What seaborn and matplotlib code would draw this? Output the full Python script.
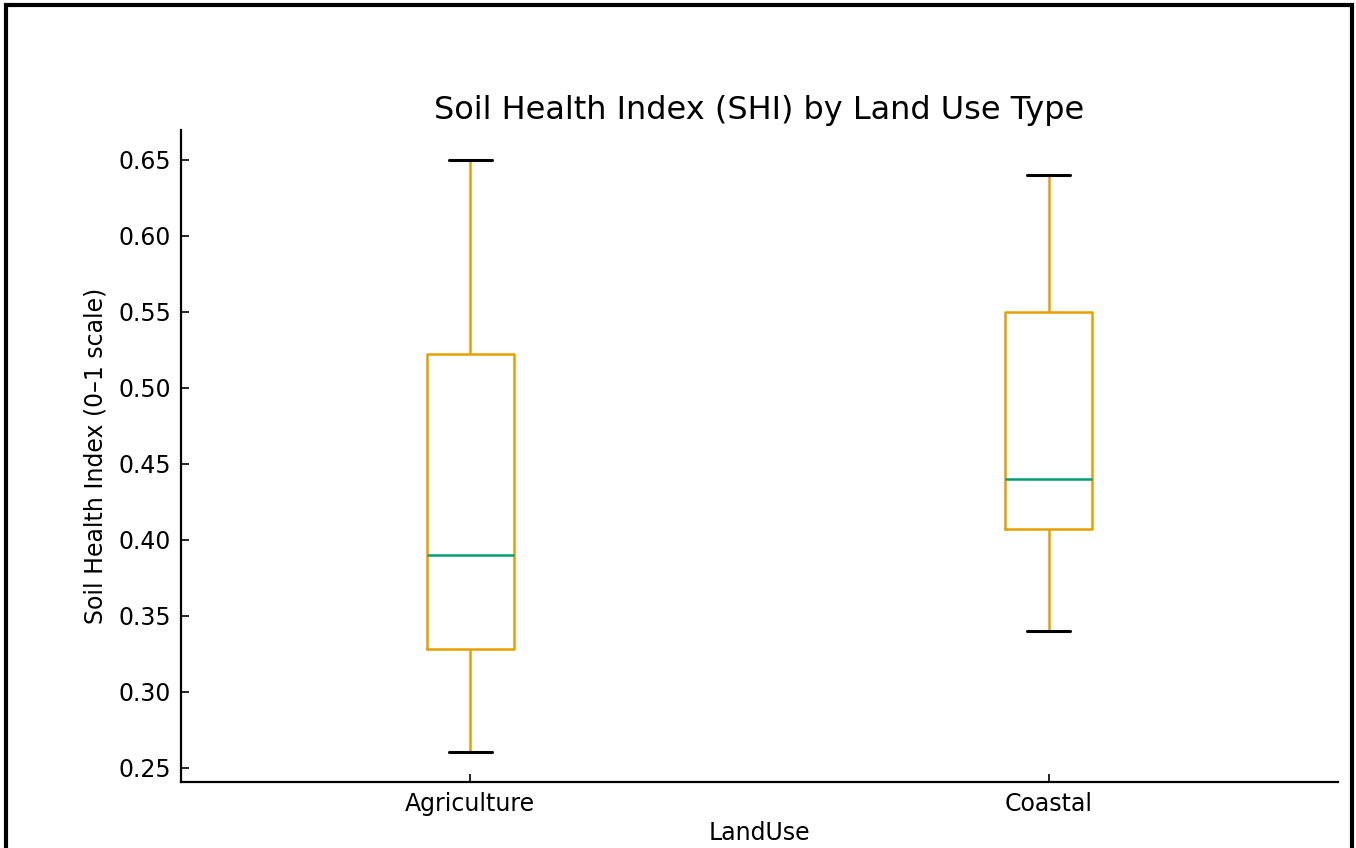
import matplotlib
matplotlib.use("Agg")
import matplotlib.pyplot as plt
import matplotlib.patches as mpatches
import seaborn as sns
import pandas as pd

# Soil Health Index samples per land-use type (0-1 scale)
agriculture_shi = [0.26, 0.328, 0.39, 0.522, 0.65]
coastal_shi = [0.34, 0.407, 0.44, 0.55, 0.64]
land_uses = ["Agriculture", "Coastal"]

df = pd.DataFrame({
    "LandUse": [land_uses[0]] * len(agriculture_shi) + [land_uses[1]] * len(coastal_shi),
    "SHI": agriculture_shi + coastal_shi,
})

sns.set_theme(style="white")
plt.rcParams["font.family"] = ["DejaVu Sans"]
plt.rcParams["text.color"] = "black"
plt.rcParams["axes.labelcolor"] = "black"

BOX = "#E69F00"
MEDIAN = "#009E73"

fig = plt.figure(figsize=(13.56, 8.48), dpi=100)
ax = fig.add_axes([181 / 1356, 66 / 848, (1338 - 181) / 1356, (782 - 130) / 848])

sns.boxplot(
    data=df, x="LandUse", y="SHI", order=land_uses, ax=ax,
    width=0.15, fill=False, color=BOX, linewidth=1.8, whis=1.5,
    boxprops=dict(color=BOX, linewidth=1.8),
    whiskerprops=dict(color=BOX, linewidth=1.8),
    medianprops=dict(color=MEDIAN, linewidth=1.8),
    capprops=dict(color="black", linewidth=2.2),
    showfliers=False,
)

ax.set_ylim(0.2405, 0.6695)
ax.set_yticks([0.25, 0.30, 0.35, 0.40, 0.45, 0.50, 0.55, 0.60, 0.65])
ax.set_yticklabels([f"{v:.2f}" for v in ax.get_yticks()])

for side in ("top", "right"):
    ax.spines[side].set_visible(False)
for side in ("left", "bottom"):
    ax.spines[side].set_visible(True)
    ax.spines[side].set_color("black")
    ax.spines[side].set_linewidth(1.6)

ax.tick_params(axis="both", direction="in", length=6, width=1.2, colors="black",
               labelsize=17, pad=7, left=True, bottom=True)
ax.set_title("Soil Health Index (SHI) by Land Use Type", fontsize=23, pad=8, color="black")
ax.set_xlabel("LandUse", fontsize=17, labelpad=4, color="black")
ax.set_ylabel("Soil Health Index (0\u20131 scale)", fontsize=17, labelpad=8, color="black")

# frame around the whole figure
fig.patches.append(mpatches.Rectangle((6 / 1356, -0.01), (1352 - 6) / 1356, 1.01 - 5 / 848,
                                      transform=fig.transFigure, fill=False,
                                      edgecolor="black", linewidth=3, zorder=10))

fig.savefig("out.png", dpi=100, facecolor="white")
